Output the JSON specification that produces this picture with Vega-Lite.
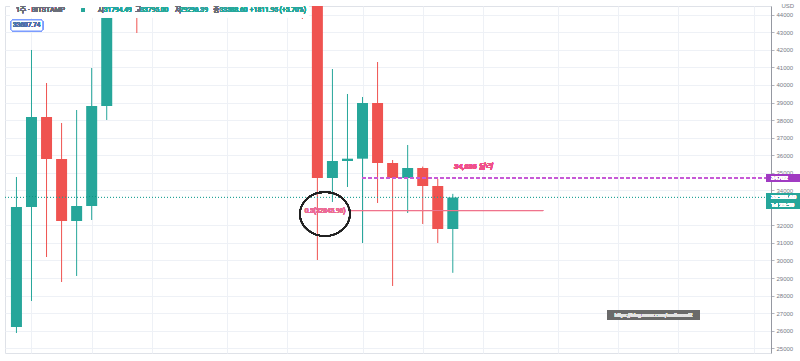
{
  "$schema": "https://vega.github.io/schema/vega-lite/v6.json",
  "width": 766,
  "height": 347,
  "autosize": {"type": "none"},
  "padding": {"left": 5, "top": 6, "right": 29, "bottom": 8},
  "background": "white",
  "config": {
    "view": {"stroke": "#dfe2e8"},
    "axis": {"labelOverlap": false, "labelBound": false, "labelFlush": false, "gridColor": "#eef1f6"}
  },
  "datasets": {
    "candles": [
      {"date": "2020-12-28", "open": 26210, "high": 34757, "low": 25868, "close": 33047},
      {"date": "2021-01-04", "open": 33047, "high": 41993, "low": 27691, "close": 38175},
      {"date": "2021-01-11", "open": 38175, "high": 40112, "low": 30198, "close": 35782},
      {"date": "2021-01-18", "open": 35782, "high": 37834, "low": 28774, "close": 32250},
      {"date": "2021-01-25", "open": 32250, "high": 38574, "low": 29116, "close": 33104},
      {"date": "2021-02-01", "open": 33104, "high": 40967, "low": 32307, "close": 38802},
      {"date": "2021-02-08", "open": 38802, "high": 49700, "low": 38005, "close": 48600},
      {"date": "2021-02-22", "open": 57400, "high": 57500, "low": 42962, "close": 45200},
      {"date": "2021-05-10", "open": 58200, "high": 59500, "low": 43759, "close": 46400},
      {"date": "2021-05-17", "open": 46400, "high": 46600, "low": 30027, "close": 34700},
      {"date": "2021-05-24", "open": 34700, "high": 40910, "low": 33332, "close": 35668},
      {"date": "2021-05-31", "open": 35668, "high": 39486, "low": 34187, "close": 35800},
      {"date": "2021-06-07", "open": 35800, "high": 39315, "low": 30996, "close": 38973},
      {"date": "2021-06-14", "open": 38973, "high": 41309, "low": 33275, "close": 35554},
      {"date": "2021-06-21", "open": 35554, "high": 35725, "low": 28546, "close": 34700},
      {"date": "2021-06-28", "open": 34700, "high": 36580, "low": 32705, "close": 35269},
      {"date": "2021-07-05", "open": 35269, "high": 35350, "low": 32079, "close": 34244},
      {"date": "2021-07-12", "open": 34244, "high": 34643, "low": 30996, "close": 31794.49},
      {"date": "2021-07-19", "open": 31794.49, "high": 33795.0, "low": 29296.39, "close": 33588.6}
    ]
  },
  "data": {"name": "candles"},
  "layer": [
    {
      "mark": {"type": "rule", "clip": true, "strokeWidth": 1},
      "encoding": {
        "x": {
          "field": "date", "type": "temporal",
          "scale": {"type": "utc", "domain": [{"year": 2020, "month": 12, "date": 25, "utc": true}, {"year": 2021, "month": 12, "date": 11, "hours": 17, "utc": true}]},
          "axis": {
            "values": [
              {"year": 2021, "month": 1, "date": 4, "utc": true},
              {"year": 2021, "month": 2, "date": 1, "utc": true},
              {"year": 2021, "month": 3, "date": 1, "utc": true},
              {"year": 2021, "month": 4, "date": 5, "utc": true},
              {"year": 2021, "month": 5, "date": 3, "utc": true},
              {"year": 2021, "month": 6, "date": 7, "utc": true},
              {"year": 2021, "month": 7, "date": 5, "utc": true},
              {"year": 2021, "month": 8, "date": 2, "utc": true},
              {"year": 2021, "month": 9, "date": 6, "utc": true},
              {"year": 2021, "month": 10, "date": 4, "utc": true},
              {"year": 2021, "month": 11, "date": 1, "utc": true},
              {"year": 2021, "month": 12, "date": 6, "utc": true}
            ],
            "tickCount": 50,
            "labels": false, "ticks": false, "domain": false, "title": null,
            "grid": true, "gridColor": "#eef1f6", "gridWidth": 1
          }
        },
        "y": {
          "field": "low", "type": "quantitative",
          "scale": {"domain": [24728, 44500], "nice": false, "zero": false},
          "axis": {
            "orient": "right",
            "values": [25000, 26000, 27000, 28000, 29000, 30000, 31000, 32000, 34000, 35000, 36000, 37000, 38000, 39000, 40000, 41000, 42000, 43000, 44000],
            "tickCount": 50,
            "format": "d",
            "labelOverlap": false, "labelBound": false, "labelFlush": false,
            "labelFontSize": 6, "labelColor": "#787b86", "labelFont": "Liberation Sans", "labelPadding": 2,
            "tickSize": 3, "tickColor": "#b2b5be",
            "domainColor": "#9598a1",
            "grid": true, "gridColor": "#eef1f6",
            "title": "USD", "titleAngle": 0, "titleFontSize": 6, "titleColor": "#787b86", "titleFontWeight": "normal", "titleFont": "Liberation Sans",
            "titleX": 10, "titleY": -1, "titleAlign": "left", "titleBaseline": "middle"
          }
        },
        "y2": {"field": "high"},
        "color": {"condition": {"test": "datum.close >= datum.open", "value": "#26a69a"}, "value": "#ef5350"}
      }
    },
    {
      "mark": {"type": "bar", "clip": true, "size": 11},
      "encoding": {
        "x": {"field": "date", "type": "temporal"},
        "y": {"field": "open", "type": "quantitative"},
        "y2": {"field": "close"},
        "color": {"condition": {"test": "datum.close >= datum.open", "value": "#26a69a"}, "value": "#ef5350"}
      }
    },
    {
      "mark": {"type": "rule", "color": "#26a69a", "strokeDash": [1, 2], "strokeWidth": 1, "opacity": 0.6},
      "encoding": {"y": {"datum": 33588.6, "type": "quantitative"}}
    },
    {
      "mark": {"type": "rect", "color": "white", "opacity": 0.6},
      "encoding": {
        "x": {"datum": {"year": 2020, "month": 12, "date": 25, "utc": true}, "type": "temporal"},
        "x2": {"datum": {"year": 2021, "month": 5, "date": 13, "utc": true}},
        "y": {"datum": 43850, "type": "quantitative"},
        "y2": {"datum": 44500}
      }
    },
    {
      "mark": {"type": "text", "text": "1주 · BITSTAMP", "align": "left", "baseline": "middle", "fontSize": 7, "font": "Roboto, Noto Sans CJK KR", "color": "#6a6d78"},
      "encoding": {
        "x": {"datum": {"year": 2020, "month": 12, "date": 27, "hours": 18, "utc": true}, "type": "temporal"},
        "y": {"datum": 44272, "type": "quantitative"}
      }
    },
    {
      "mark": {"type": "point", "shape": "circle", "filled": true, "size": 14, "color": "#26a69a", "opacity": 1},
      "encoding": {
        "x": {"datum": {"year": 2021, "month": 1, "date": 28, "utc": true}, "type": "temporal"},
        "y": {"datum": 44272, "type": "quantitative"}
      }
    },
    {
      "mark": {"type": "text", "text": "시", "align": "left", "baseline": "middle", "fontSize": 6.7, "font": "Noto Sans CJK KR", "color": "#6a6d78"},
      "encoding": {
        "x": {"datum": {"year": 2021, "month": 2, "date": 3, "hours": 21, "utc": true}, "type": "temporal"},
        "y": {"datum": 44272, "type": "quantitative"}
      }
    },
    {
      "mark": {"type": "text", "text": "31794.49", "align": "left", "baseline": "middle", "fontSize": 6.7, "font": "Roboto", "color": "#26a69a"},
      "encoding": {
        "x": {"datum": {"year": 2021, "month": 2, "date": 6, "hours": 14, "utc": true}, "type": "temporal"},
        "y": {"datum": 44272, "type": "quantitative"}
      }
    },
    {
      "mark": {"type": "text", "text": "고", "align": "left", "baseline": "middle", "fontSize": 6.7, "font": "Noto Sans CJK KR", "color": "#6a6d78"},
      "encoding": {
        "x": {"datum": {"year": 2021, "month": 2, "date": 21, "hours": 7, "utc": true}, "type": "temporal"},
        "y": {"datum": 44272, "type": "quantitative"}
      }
    },
    {
      "mark": {"type": "text", "text": "33795.00", "align": "left", "baseline": "middle", "fontSize": 6.7, "font": "Roboto", "color": "#26a69a"},
      "encoding": {
        "x": {"datum": {"year": 2021, "month": 2, "date": 23, "hours": 14, "utc": true}, "type": "temporal"},
        "y": {"datum": 44272, "type": "quantitative"}
      }
    },
    {
      "mark": {"type": "text", "text": "저", "align": "left", "baseline": "middle", "fontSize": 6.7, "font": "Noto Sans CJK KR", "color": "#6a6d78"},
      "encoding": {
        "x": {"datum": {"year": 2021, "month": 3, "date": 11, "hours": 17, "utc": true}, "type": "temporal"},
        "y": {"datum": 44272, "type": "quantitative"}
      }
    },
    {
      "mark": {"type": "text", "text": "29296.39", "align": "left", "baseline": "middle", "fontSize": 6.7, "font": "Roboto", "color": "#26a69a"},
      "encoding": {
        "x": {"datum": {"year": 2021, "month": 3, "date": 14, "utc": true}, "type": "temporal"},
        "y": {"datum": 44272, "type": "quantitative"}
      }
    },
    {
      "mark": {"type": "text", "text": "종", "align": "left", "baseline": "middle", "fontSize": 6.7, "font": "Noto Sans CJK KR", "color": "#6a6d78"},
      "encoding": {
        "x": {"datum": {"year": 2021, "month": 3, "date": 29, "hours": 14, "utc": true}, "type": "temporal"},
        "y": {"datum": 44272, "type": "quantitative"}
      }
    },
    {
      "mark": {"type": "text", "text": "33588.60", "align": "left", "baseline": "middle", "fontSize": 6.7, "font": "Roboto", "color": "#26a69a"},
      "encoding": {
        "x": {"datum": {"year": 2021, "month": 4, "date": 1, "hours": 10, "utc": true}, "type": "temporal"},
        "y": {"datum": 44272, "type": "quantitative"}
      }
    },
    {
      "mark": {"type": "text", "text": "+1811.95 (+5.70%)", "align": "left", "baseline": "middle", "fontSize": 6.7, "font": "Roboto", "color": "#26a69a"},
      "encoding": {
        "x": {"datum": {"year": 2021, "month": 4, "date": 15, "hours": 14, "utc": true}, "type": "temporal"},
        "y": {"datum": 44272, "type": "quantitative"}
      }
    },
    {
      "mark": {"type": "rect", "fill": "white", "stroke": "#7b9cff", "strokeWidth": 1, "cornerRadius": 2},
      "encoding": {
        "x": {"datum": {"year": 2020, "month": 12, "date": 25, "hours": 12, "utc": true}, "type": "temporal"},
        "x2": {"datum": {"year": 2021, "month": 1, "date": 9, "hours": 5, "utc": true}},
        "y": {"datum": 43076, "type": "quantitative"},
        "y2": {"datum": 43702}
      }
    },
    {
      "mark": {"type": "text", "text": "33607.74", "align": "center", "baseline": "middle", "fontSize": 6.5, "font": "Roboto", "color": "#4f6fa8"},
      "encoding": {
        "x": {"datum": {"year": 2021, "month": 1, "date": 1, "hours": 19, "utc": true}, "type": "temporal"},
        "y": {"datum": 43389, "type": "quantitative"}
      }
    },
    {
      "mark": {"type": "rule", "color": "#c75bd6", "strokeDash": [3, 3], "strokeWidth": 1},
      "encoding": {
        "x": {"datum": {"year": 2021, "month": 6, "date": 7, "utc": true}, "type": "temporal"},
        "x2": {"datum": {"year": 2021, "month": 12, "date": 11, "hours": 17, "utc": true}},
        "y": {"datum": 34702, "type": "quantitative"}
      }
    },
    {
      "mark": {"type": "rule", "color": "#ee7390", "strokeWidth": 1},
      "encoding": {
        "x": {"datum": {"year": 2021, "month": 5, "date": 31, "hours": 12, "utc": true}, "type": "temporal"},
        "x2": {"datum": {"year": 2021, "month": 8, "date": 30, "utc": true}},
        "y": {"datum": 32845.96, "type": "quantitative"}
      }
    },
    {
      "mark": {"type": "text", "text": "0.5(32845.96)", "align": "right", "baseline": "middle", "fontSize": 6.5, "font": "Roboto", "color": "#ec6a94"},
      "encoding": {
        "x": {"datum": {"year": 2021, "month": 5, "date": 30, "hours": 2, "utc": true}, "type": "temporal"},
        "y": {"datum": 32845.96, "type": "quantitative"}
      }
    },
    {
      "mark": {"type": "point", "shape": "M-1,0A1,0.88,0,1,0,1,0A1,0.88,0,1,0,-1,0Z", "size": 2500, "filled": false, "color": "#222222", "strokeWidth": 1.3, "opacity": 1},
      "encoding": {
        "x": {"datum": {"year": 2021, "month": 5, "date": 20, "hours": 12, "utc": true}, "type": "temporal"},
        "y": {"datum": 32648, "type": "quantitative"}
      }
    },
    {
      "mark": {"type": "text", "text": "34,886 달러", "align": "left", "baseline": "middle", "fontSize": 7.5, "fontStyle": "italic", "fontWeight": "bold", "font": "Roboto, Noto Sans CJK KR", "color": "#f0508a"},
      "encoding": {
        "x": {"datum": {"year": 2021, "month": 7, "date": 19, "hours": 14, "utc": true}, "type": "temporal"},
        "y": {"datum": 35326, "type": "quantitative"}
      }
    },
    {
      "mark": {"type": "rect", "fill": "#6a6a6a"},
      "encoding": {
        "x": {"datum": {"year": 2021, "month": 9, "date": 28, "hours": 18, "utc": true}, "type": "temporal"},
        "x2": {"datum": {"year": 2021, "month": 11, "date": 10, "hours": 22, "utc": true}},
        "y": {"datum": 26608, "type": "quantitative"},
        "y2": {"datum": 27178}
      }
    },
    {
      "mark": {"type": "text", "text": "https://blog.naver.com/mailmond2", "align": "center", "baseline": "middle", "fontSize": 5, "font": "Roboto", "color": "#e6e6e6"},
      "encoding": {
        "x": {"datum": {"year": 2021, "month": 10, "date": 20, "hours": 10, "utc": true}, "type": "temporal"},
        "y": {"datum": 26893, "type": "quantitative"}
      }
    },
    {
      "mark": {"type": "rect", "fill": "#a03bc2"},
      "encoding": {
        "x": {"datum": {"year": 2021, "month": 12, "date": 11, "hours": 17, "utc": true}, "type": "temporal"},
        "x2": {"datum": {"year": 2021, "month": 12, "date": 31, "utc": true}},
        "y": {"datum": 34472, "type": "quantitative"},
        "y2": {"datum": 34928}
      }
    },
    {
      "mark": {"type": "text", "text": "34702", "align": "left", "baseline": "middle", "fontSize": 6, "font": "Roboto", "color": "white"},
      "encoding": {
        "x": {"datum": {"year": 2021, "month": 12, "date": 14, "utc": true}, "type": "temporal"},
        "y": {"datum": 34700, "type": "quantitative"}
      }
    },
    {
      "mark": {"type": "rect", "fill": "#26a69a"},
      "encoding": {
        "x": {"datum": {"year": 2021, "month": 12, "date": 11, "hours": 17, "utc": true}, "type": "temporal"},
        "x2": {"datum": {"year": 2021, "month": 12, "date": 31, "utc": true}},
        "y": {"datum": 32933, "type": "quantitative"},
        "y2": {"datum": 33845}
      }
    },
    {
      "mark": {"type": "text", "text": "33588.60", "align": "left", "baseline": "middle", "fontSize": 6, "font": "Roboto", "color": "white"},
      "encoding": {
        "x": {"datum": {"year": 2021, "month": 12, "date": 14, "utc": true}, "type": "temporal"},
        "y": {"datum": 33600, "type": "quantitative"}
      }
    },
    {
      "mark": {"type": "text", "text": "1d 23:59", "align": "left", "baseline": "middle", "fontSize": 6, "font": "Roboto", "color": "white"},
      "encoding": {
        "x": {"datum": {"year": 2021, "month": 12, "date": 14, "utc": true}, "type": "temporal"},
        "y": {"datum": 33150, "type": "quantitative"}
      }
    }
  ]
}
